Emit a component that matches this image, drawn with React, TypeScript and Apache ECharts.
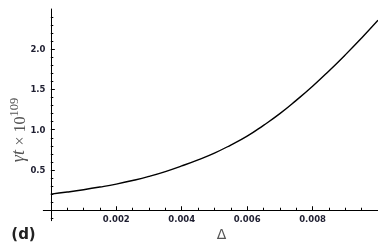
import React, { useEffect, useRef } from "react";
import * as echarts from "echarts";

const deltaValues = [0, 0.0005, 0.001, 0.0015, 0.002, 0.0025, 0.003, 0.0035, 0.004, 0.0045, 0.005, 0.0055, 0.006, 0.0065, 0.007, 0.0075, 0.008, 0.0085, 0.009, 0.0095, 0.01];
const gammaT = [0.2, 0.226, 0.255, 0.288, 0.325, 0.369, 0.42, 0.48, 0.55, 0.626, 0.71, 0.81, 0.92, 1.055, 1.2, 1.365, 1.54, 1.73, 1.93, 2.14, 2.36];

const xMajorTicks = [0.002, 0.004, 0.006, 0.008];
const xMinorTicks = [0.0005, 0.001, 0.0015, 0.0025, 0.003, 0.0035, 0.0045, 0.005, 0.0055, 0.0065, 0.007, 0.0075, 0.0085, 0.009, 0.0095];
const yMajorTicks = [0.5, 1.0, 1.5, 2.0];
const yMinorTicks = [-0.1, 0.1, 0.2, 0.3, 0.4, 0.6, 0.7, 0.8, 0.9, 1.1, 1.2, 1.3, 1.4, 1.6, 1.7, 1.8, 1.9, 2.1, 2.2, 2.3, 2.4];

const X_MIN = -0.00023;
const X_MAX = 0.01;
const Y_MIN = -0.13;
const Y_MAX = 2.5;

export default function App() {
  const ref = useRef<HTMLDivElement>(null);
  useEffect(() => {
    if (!ref.current) return;
    const chart = echarts.init(ref.current, null, { renderer: "svg" });
    const labelFont = {
      fontFamily: "DejaVu Sans",
      fontWeight: "bold" as const,
      fontSize: 8.5,
      color: "#1e1e30",
    };
    const baseX = {
      type: "value" as const,
      min: X_MIN,
      max: X_MAX,
      position: "bottom" as const,
      splitLine: { show: false },
    };
    const baseY = {
      type: "value" as const,
      min: Y_MIN,
      max: Y_MAX,
      position: "left" as const,
      splitLine: { show: false },
    };
    chart.setOption({
      animation: false,
      grid: { left: 43.3, right: 0, top: 9, bottom: 25.3, containLabel: false },
      xAxis: [
        {
          ...baseX,
          axisLine: { show: true, onZero: true, lineStyle: { color: "#000", width: 1 } },
          axisTick: { show: true, inside: true, length: 4, customValues: xMajorTicks, lineStyle: { color: "#000" } },
          axisLabel: {
            show: true,
            customValues: xMajorTicks,
            margin: -6.4,
            formatter: (v: number) => v.toFixed(3),
            ...labelFont,
          },
        },
        {
          ...baseX,
          axisLine: { show: false, onZero: true },
          axisTick: { show: true, inside: true, length: 2.5, customValues: xMinorTicks, lineStyle: { color: "#000" } },
          axisLabel: { show: false },
        },
      ],
      yAxis: [
        {
          ...baseY,
          axisLine: { show: true, onZero: true, lineStyle: { color: "#000", width: 1 } },
          axisTick: { show: true, inside: true, length: 4, customValues: yMajorTicks, lineStyle: { color: "#000" } },
          axisLabel: {
            show: true,
            customValues: yMajorTicks,
            margin: -2.2,
            formatter: (v: number) => v.toFixed(1),
            ...labelFont,
          },
        },
        {
          ...baseY,
          axisLine: { show: false, onZero: true },
          axisTick: { show: true, inside: true, length: 2.5, customValues: yMinorTicks, lineStyle: { color: "#000" } },
          axisLabel: { show: false },
        },
      ],
      series: [
        {
          type: "line",
          xAxisIndex: 0,
          yAxisIndex: 0,
          data: deltaValues.map((d, i) => [d, gammaT[i]]),
          smooth: true,
          showSymbol: false,
          lineStyle: { color: "#000", width: 1.4 },
        },
      ],
      graphic: [
        {
          type: "text",
          x: 17,
          y: 130,
          rotation: Math.PI / 2,
          style: {
            text: "{g|γt }{m|× 10}{s|109}",
            align: "center",
            verticalAlign: "middle",
            fill: "#555",
            rich: {
              g: { fontFamily: "Liberation Serif", fontStyle: "italic", fontSize: 18, fill: "#555", verticalAlign: "bottom", lineHeight: 20 },
              m: { fontFamily: "Liberation Serif", fontSize: 16, fill: "#555", verticalAlign: "bottom", lineHeight: 20 },
              s: { fontFamily: "Liberation Serif", fontSize: 12.5, fill: "#555", verticalAlign: "top", lineHeight: 20 },
            },
          },
        },
        {
          type: "text",
          x: 221.5,
          y: 233.5,
          style: {
            text: "Δ",
            align: "center",
            verticalAlign: "middle",
            fontFamily: "DejaVu Sans",
            fontSize: 14,
            fill: "#555",
          },
        },
        {
          type: "text",
          x: 23.5,
          y: 234,
          style: {
            text: "(d)",
            align: "center",
            verticalAlign: "middle",
            fontFamily: "DejaVu Sans",
            fontWeight: "bold",
            fontSize: 15,
            fill: "#222",
          },
        },
      ],
    });
    return () => chart.dispose();
  }, []);
  return <div ref={ref} style={{ position: "fixed", left: 0, top: 0, width: 378, height: 246 }} />;
}
